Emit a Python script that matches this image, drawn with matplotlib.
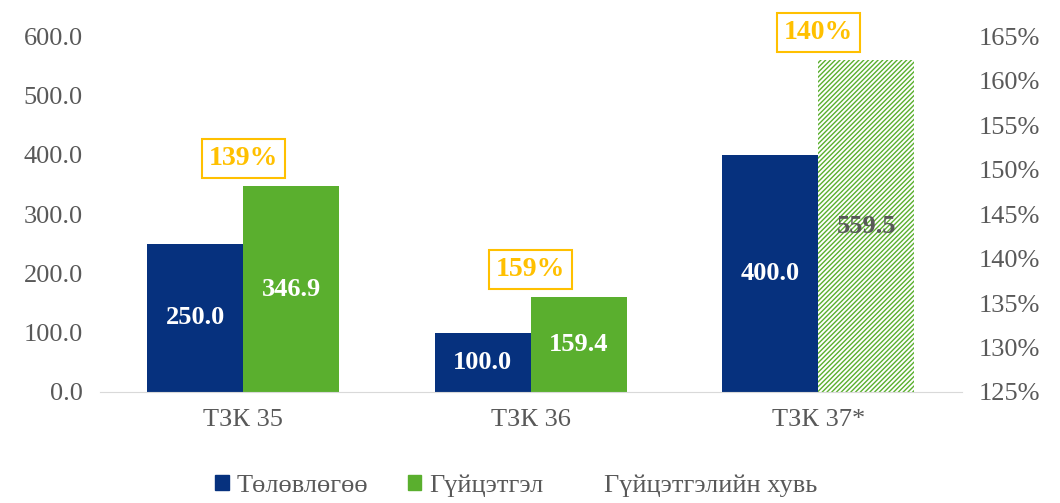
import numpy as np
import matplotlib.pyplot as plt
from matplotlib.lines import Line2D
from matplotlib.patches import Patch

plt.rcParams['font.family'] = ['Liberation Serif', 'DejaVu Serif']
plt.rcParams['hatch.linewidth'] = 1.0

# data
categories = ['ТЗК 35', 'ТЗК 36', 'ТЗК 37*']
plan = [250.0, 100.0, 400.0]
actual = [346.9, 159.4, 559.5]
pct = [139, 159, 140]
series_names = ['Төлөвлөгөө', 'Гүйцэтгэл', 'Гүйцэтгэлийн хувь']

blue = '#06317E'
green = '#5AAF2E'
gold = '#FFC000'
grey = '#595959'

fig = plt.figure(figsize=(10.6, 5.03), dpi=100, facecolor='w')
ax = fig.add_axes([0.094, 0.2207, 0.8135, 0.7073])
ax2 = ax.twinx()

x = np.arange(len(categories))
w = 0.334

ax.bar(x - w / 2, plan, w, color=blue, zorder=2)
for i, v in enumerate(actual):
    if i == len(actual) - 1:
        ax.bar(x[i] + w / 2, v, w, facecolor='white', edgecolor=green,
               hatch='///////', linewidth=0, zorder=2)
    else:
        ax.bar(x[i] + w / 2, v, w, color=green, zorder=2)

# value labels inside bars
for i in range(len(categories)):
    ax.text(x[i] - w / 2, plan[i] / 2, f'{plan[i]:.1f}', ha='center', va='center',
            color='white', fontsize=19, fontweight='bold', zorder=3)
    c = grey if i == len(categories) - 1 else 'white'
    ax.text(x[i] + w / 2, actual[i] / 2, f'{actual[i]:.1f}',
            ha='center', va='center', color=c, fontsize=19, fontweight='bold', zorder=3)
    ax.annotate(f'{pct[i]}%', (x[i], actual[i]), xytext=(0, 11), textcoords='offset points',
                ha='center', va='bottom', color=gold, fontsize=20, fontweight='bold',
                bbox=dict(boxstyle='square,pad=0.25', fc='white', ec=gold, lw=1.5), zorder=4)

ax.set_xlim(-0.5, 2.5)
ax.set_ylim(0, 600)
ax.set_yticks(np.arange(0, 601, 100))
ax.set_yticklabels([f'{v:.1f}' for v in np.arange(0, 601, 100)])
ax.set_xticks(x)
ax.set_xticklabels(categories)

ax2.plot(x, pct, linestyle='none')
ax2.set_ylim(125, 165)
ax2.set_yticks(np.arange(125, 166, 5))
ax2.set_yticklabels([f'{v}%' for v in range(125, 166, 5)])

for a in (ax, ax2):
    for s in a.spines.values():
        s.set_visible(False)
    a.tick_params(length=0, labelsize=19, colors=grey, pad=12)
ax.spines['bottom'].set_visible(True)
ax.spines['bottom'].set_color('#D9D9D9')
ax.tick_params(axis='x', pad=12)

handles = [Patch(color=blue), Patch(color=green), Line2D([], [], linestyle='none')]
fig.legend(handles, series_names, loc='lower center', bbox_to_anchor=(0.487, -0.035),
           ncol=3, frameon=False, fontsize=19, labelcolor=grey,
           handlelength=0.5, handleheight=0.5, handletextpad=0.3, columnspacing=1.5)

plt.savefig('out.png', dpi=100)
